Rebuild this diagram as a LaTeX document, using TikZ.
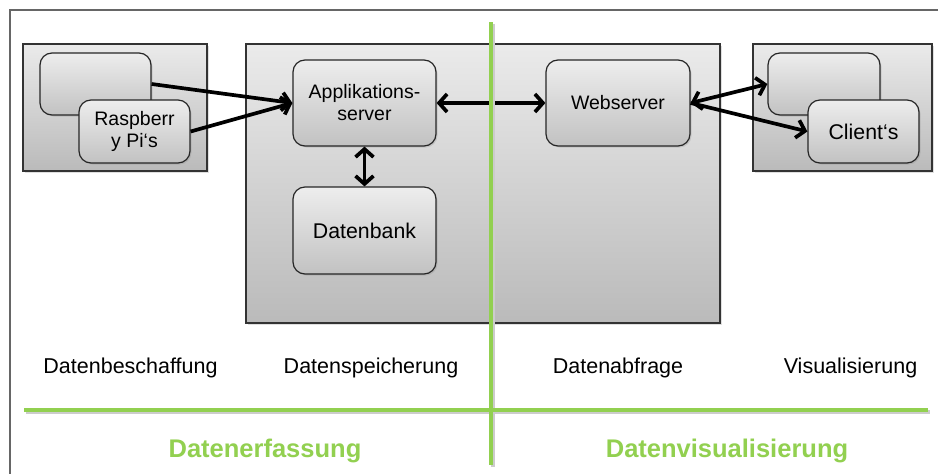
\documentclass[tikz,border=0pt]{standalone}
\usepackage{fontspec}
\setmainfont{Liberation Sans}
\usetikzlibrary{arrows.meta,shadows}
\definecolor{grn}{RGB}{146,208,80}
\tikzset{
  panel/.style={rectangle, draw=black!80, line width=1.1pt, inner sep=0pt,
    top color=black!8, bottom color=black!27,
    drop shadow={opacity=0.25, shadow xshift=1.5pt, shadow yshift=-1.5pt}},
  rbox/.style={rectangle, rounded corners=12pt, draw=black!85, line width=1.2pt, inner sep=0pt,
    top color=black!7, bottom color=black!24, align=center,
    drop shadow={opacity=0.25, shadow xshift=1.5pt, shadow yshift=-1.5pt}},
  conn/.style={line width=3.7pt, black, arrows={-Straight Barb[length=8pt,width=18pt]}},
  dconn/.style={line width=3.7pt, black, arrows={Straight Barb[length=8pt,width=18pt]-Straight Barb[length=8pt,width=18pt]}},
  grnline/.style={grn, line width=4pt},
  grnshadow/.style={black!20, line width=4pt},
  lbl/.style={anchor=base, inner sep=0pt, font=\fontsize{21.5}{24}\selectfont},
  glbl/.style={anchor=base, inner sep=0pt, text=grn, font=\bfseries\fontsize{25.5}{28}\selectfont},
  f19/.style={font=\fontsize{19.5}{22}\selectfont},
  f21/.style={font=\fontsize{21.3}{24}\selectfont}
}
\begin{document}
\begin{tikzpicture}[x=1pt,y=-1pt]
\useasboundingbox (0,0) rectangle (938,474);
\fill[white] (0,0) rectangle (938,474);
% outer frame
\draw[black!60, line width=1.3pt] (10,474) -- (10,10) -- (938,10);
% panels
\node[panel, minimum width=184pt, minimum height=127pt] (lpanel) at (115,107.5) {};
\node[panel, minimum width=474pt, minimum height=279pt] (mpanel) at (483,183.5) {};
\node[panel, minimum width=179pt, minimum height=127pt] (rpanel) at (842.5,107.5) {};
% left group
\node[rbox, minimum width=111pt, minimum height=62pt] (rpback) at (95.5,84) {};
\node[rbox, f19, minimum width=111pt, minimum height=63pt] (rpi) at (134.5,131.5) {Raspberr\\y Pi‘s};
% middle
\node[rbox, f19, minimum width=143pt, minimum height=86pt] (app) at (364.5,103) {Applikations-\\server};
\node[rbox, f21, minimum width=143pt, minimum height=87pt] (db) at (364.5,230.5) {Datenbank};
\node[rbox, f19, minimum width=144pt, minimum height=86pt] (web) at (618,103) {Webserver};
% right group
\node[rbox, minimum width=112pt, minimum height=62pt] (clback) at (824,84) {};
\node[rbox, f21, minimum width=111pt, minimum height=63pt] (client) at (863.5,131.5) {Client‘s};
% connectors
\draw[conn] (rpback.east) -- (app.west);
\draw[conn] (rpi.east) -- (app.west);
\draw[dconn] (app.east) -- (web.west);
\draw[dconn] (app.south) -- (db.north);
\draw[dconn] (web.east) -- (clback.west);
\draw[conn] (web.east) -- (client.west);
% green dividers
\coordinate (vtop) at (491,22);
\coordinate (vbot) at (491,465);
\coordinate (hl) at (24,410);
\coordinate (hr) at (928,410);
\draw[grnshadow] ([shift={(1.5,2)}]hl) -- ([shift={(1.5,2)}]hr);
\draw[grnshadow] ([shift={(1.5,2)}]vtop) -- ([shift={(1.5,2)}]vbot);
\draw[grnline] (hl) -- (hr);
\draw[grnline] (vtop) -- (vbot);
% labels
\node[lbl] (l1) at (130.5,373.3) {Datenbeschaffung};
\node[lbl] (l2) at (371,373.3) {Datenspeicherung};
\node[lbl] (l3) at (618,373.3) {Datenabfrage};
\node[lbl] (l4) at (850.5,373.3) {Visualisierung};
\node[glbl] (g1) at (265,457.3) {Datenerfassung};
\node[glbl] (g2) at (727,457.3) {Datenvisualisierung};
\end{tikzpicture}
\end{document}
